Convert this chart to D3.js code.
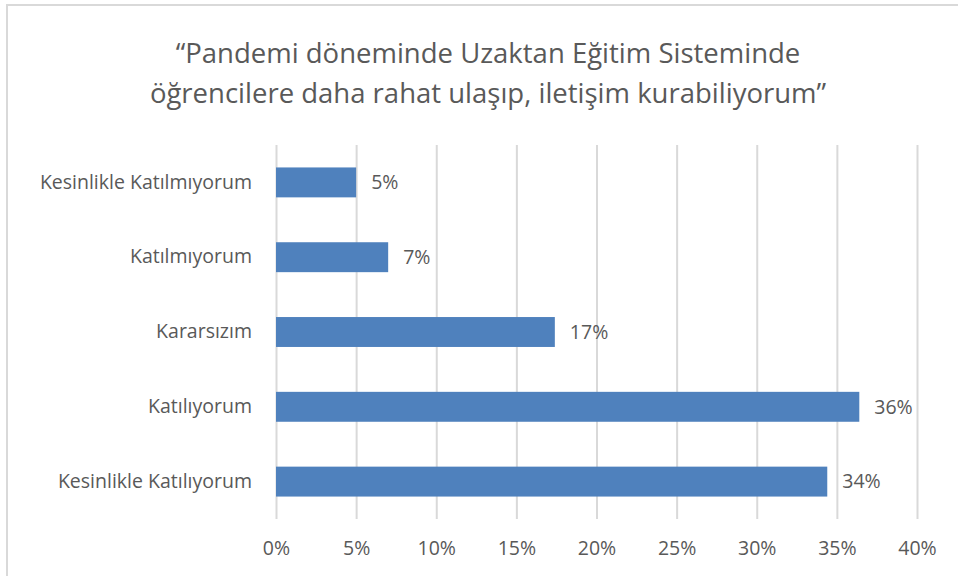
<!DOCTYPE html>
<meta charset="utf-8">
<head>
  <script src="https://d3js.org/d3.v7.min.js"></script>
  <style>
    body { margin: 0; background: #fff; }
    text { font-family: "Open Sans", "Noto Sans", sans-serif; fill: #595959; }
    .grid line { stroke: #d9d9d9; stroke-width: 2; }
  </style>
</head>
<body>
  <div id="chart"></div>
  <script>

    // data
    var categories = ["Kesinlikle Katılmıyorum", "Katılmıyorum", "Kararsızım", "Katılıyorum", "Kesinlikle Katılıyorum"];
    var values = [5.0, 7.0, 17.4, 36.4, 34.4];
    var valueLabels = ["5%", "7%", "17%", "36%", "34%"];
    var tickValues = [0, 5, 10, 15, 20, 25, 30, 35, 40];
    var titleLines = ["“Pandemi döneminde Uzaktan Eğitim Sisteminde", "öğrencilere daha rahat ulaşıp, iletişim kurabiliyorum”"];

    var W = 958, H = 576;
    var margin = { top: 145, right: 41, bottom: 57, left: 276 },
      width = W - margin.left - margin.right,
      height = H - margin.top - margin.bottom;

    var root = d3.select("#chart").append("svg")
      .attr("width", W)
      .attr("height", H);

    // chart frame (only top and left edges are visible)
    root.append("rect")
      .attr("x", 7).attr("y", 5)
      .attr("width", W + 20).attr("height", H + 20)
      .attr("fill", "none")
      .attr("stroke", "#d9d9d9")
      .attr("stroke-width", 2);

    // title
    root.append("g").selectAll("text")
      .data(titleLines)
      .enter().append("text")
      .attr("x", 488)
      .attr("y", function (d, i) { return 63 + i * 40; })
      .attr("text-anchor", "middle")
      .style("font-size", "27.5px")
      .text(function (d) { return d; });

    var svg = root.append("g")
      .attr("transform", "translate(" + margin.left + "," + margin.top + ")");

    var x = d3.scaleLinear().domain([0, 40]).range([0, width]);
    var y = d3.scaleBand().domain(categories).range([0, height]).paddingInner(0.6).paddingOuter(0.3);

    // vertical gridlines
    svg.append("g")
      .attr("class", "grid")
      .call(d3.axisBottom(x).tickValues(tickValues).tickSize(height).tickFormat(""))
      .call(function (g) { g.select(".domain").remove(); });

    // x tick labels
    svg.append("g")
      .attr("transform", "translate(0," + height + ")")
      .call(d3.axisBottom(x).tickValues(tickValues).tickSize(0).tickPadding(22)
        .tickFormat(function (d) { return d + "%"; }))
      .call(function (g) {
        g.select(".domain").remove();
        g.selectAll("text").style("font-size", "19.5px").attr("fill", "#595959");
      });

    // y labels
    svg.append("g")
      .call(d3.axisLeft(y).tickSize(0).tickPadding(24))
      .call(function (g) {
        g.select(".domain").remove();
        g.selectAll("text").style("font-size", "19.5px").attr("fill", "#595959");
      });

    // bars
    svg.selectAll(".bar")
      .data(categories)
      .enter().append("rect")
      .attr("class", "bar")
      .attr("x", x(0))
      .attr("y", function (d) { return y(d); })
      .attr("width", function (d, i) { return x(values[i]) - x(0); })
      .attr("height", y.bandwidth())
      .attr("fill", "#4f81bd");

    // value labels
    svg.selectAll(".lbl")
      .data(categories)
      .enter().append("text")
      .attr("class", "lbl")
      .attr("x", function (d, i) { return x(values[i]) + 15; })
      .attr("y", function (d) { return y(d) + y.bandwidth() / 2; })
      .attr("dy", "0.35em")
      .style("font-size", "19.5px")
      .text(function (d, i) { return valueLabels[i]; });

  </script>
</body>
